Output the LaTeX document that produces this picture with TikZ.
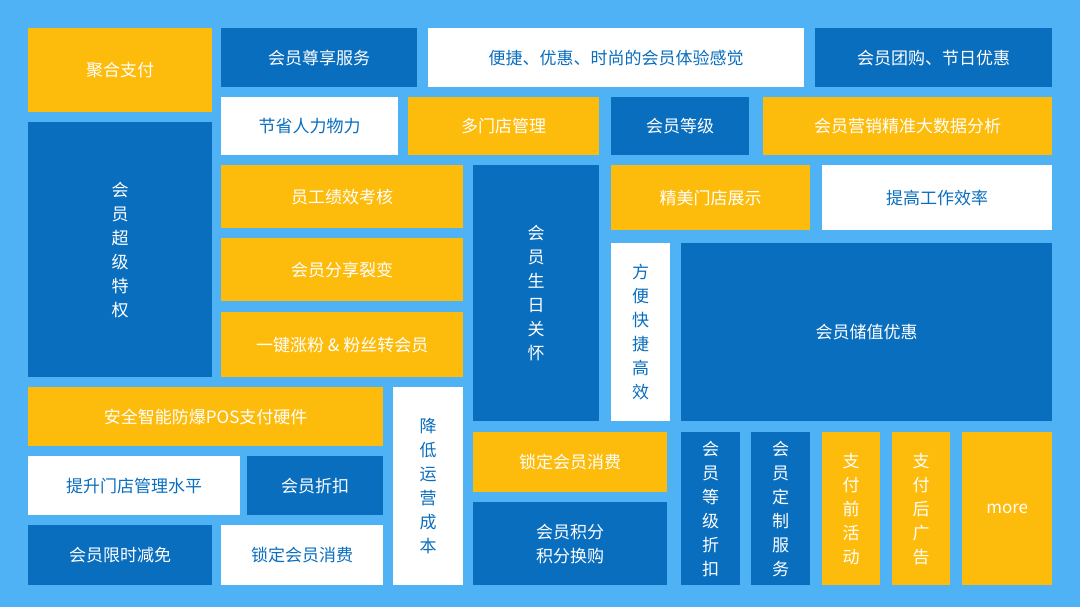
\documentclass[tikz,border=0pt]{standalone}
\usepackage{fontspec}
\setmainfont{Noto Sans CJK SC}
\definecolor{bg}{RGB}{78,178,245}
\definecolor{db}{RGB}{10,110,190}
\definecolor{yl}{RGB}{253,187,12}
\tikzset{
 cell/.style={anchor=north west,inner sep=0pt,align=center,font=\fontsize{17}{24}\selectfont},
 dk/.style={cell,fill=db,text=white},
 ye/.style={cell,fill=yl,text=white},
 wh/.style={cell,fill=white,text=db},
}
\newcommand\bx[7]{\node[#6,minimum width=#4pt-#2pt,minimum height=#5pt-#3pt] (#1) at (#2pt,-#3pt) {#7};}
\begin{document}
\begin{tikzpicture}
\fill[bg] (0,0) rectangle (1080pt,-607pt);
\useasboundingbox (0,0) rectangle (1080pt,-607pt);
\bx{a1}{28}{28}{212}{112}{ye}{聚合支付}
\bx{a2}{221}{28}{417}{87}{dk}{会员尊享服务}
\bx{a3}{428}{28}{804}{87}{wh}{便捷、优惠、时尚的会员体验感觉}
\bx{a4}{815}{28}{1052}{87}{dk}{会员团购、节日优惠}
\bx{a5}{28}{122}{212}{377}{dk}{会\\员\\超\\级\\特\\权}
\bx{a6}{221}{97}{398}{155}{wh}{节省人力物力}
\bx{a7}{408}{97}{599}{155}{ye}{多门店管理}
\bx{a8}{611}{97}{749}{155}{dk}{会员等级}
\bx{a9}{763}{97}{1052}{155}{ye}{会员营销精准大数据分析}
\bx{a10}{221}{165}{463}{228}{ye}{员工绩效考核}
\bx{a11}{473}{165}{599}{421}{dk}{会\\员\\生\\日\\关\\怀}
\bx{a12}{611}{165}{810}{230}{ye}{精美门店展示}
\bx{a13}{822}{165}{1052}{230}{wh}{提高工作效率}
\bx{a14}{221}{238}{463}{301}{ye}{会员分享裂变}
\bx{a15}{611}{243}{670}{421}{wh}{方\\便\\快\\捷\\高\\效}
\bx{a16}{681}{243}{1052}{421}{dk}{会员储值优惠}
\bx{a17}{221}{312}{463}{377}{ye}{一键涨粉 \& 粉丝转会员}
\bx{a18}{28}{387}{383}{446}{ye}{安全智能防爆POS支付硬件}
\bx{a19}{393}{387}{463}{585}{wh}{降\\低\\运\\营\\成\\本}
\bx{a20}{473}{432}{667}{492}{ye}{锁定会员消费}
\bx{a21}{28}{456}{240}{515}{wh}{提升门店管理水平}
\bx{a22}{247}{456}{383}{515}{dk}{会员折扣}
\bx{a23}{473}{502}{667}{585}{dk}{会员积分\\积分换购}
\bx{a24}{681}{432}{740}{585}{dk}{会\\员\\等\\级\\折\\扣}
\bx{a25}{751}{432}{810}{585}{dk}{会\\员\\定\\制\\服\\务}
\bx{a26}{822}{432}{880}{585}{ye}{支\\付\\前\\活\\动}
\bx{a27}{892}{432}{950}{585}{ye}{支\\付\\后\\广\\告}
\bx{a28}{962}{432}{1052}{585}{ye}{more}
\bx{a29}{28}{525}{212}{585}{dk}{会员限时减免}
\bx{a30}{221}{525}{383}{585}{wh}{锁定会员消费}
\end{tikzpicture}
\end{document}
